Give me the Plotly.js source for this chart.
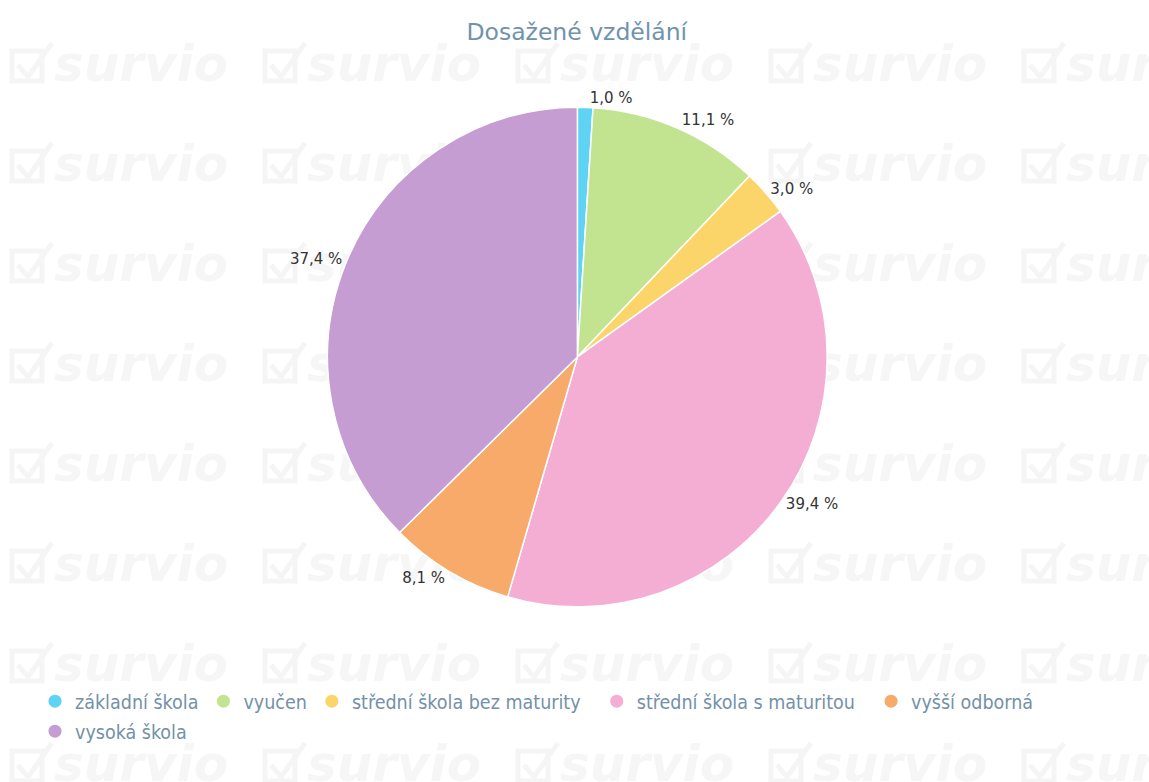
<!DOCTYPE html>
<html>
<head>
<meta charset="utf-8">
<script src="https://cdn.plot.ly/plotly-3.0.1.min.js"></script>
<style>html,body{margin:0;padding:0;background:#fff;}#chart{width:1149px;height:782px;}</style>
</head>
<body>
<div id="chart"></div>
<script>
const categories = ["základní škola", "vyučen", "střední škola bez maturity", "střední škola s maturitou", "vyšší odborná", "vysoká škola"];
const percentages = [1.0, 11.1, 3.0, 39.4, 8.1, 37.4];
const colors = ["#5fd3f3", "#c2e38f", "#fcd56a", "#f4aed4", "#f8aa6a", "#c59dd2"];
const chartTitle = "Dosažené vzdělání";
// legend layout: which legend row each entry goes to, and extra trailing spacing (non-breaking spaces)
const legendRow = ["legend", "legend", "legend", "legend", "legend", "legend2"];
const legendPad = [0, 0, 2, 2, 0, 0];

const pie = {
  type: "pie",
  labels: categories,
  values: percentages,
  sort: false,
  direction: "clockwise",
  rotation: 0,
  marker: {colors: colors, line: {color: "#ffffff", width: 1.5}},
  textposition: "outside",
  texttemplate: "%{value:.1f} %",
  textfont: {family: "DejaVu Sans", size: 15, color: "#333333"},
  hoverinfo: "label+percent",
  showlegend: false,
  domain: {x: [0.005, 1], y: [0.224, 0.863]}
};

const legendTraces = categories.map((c, i) => ({
  type: "scatter",
  mode: "markers",
  x: [null], y: [null],
  name: c + "\u00a0".repeat(legendPad[i]),
  legend: legendRow[i],
  marker: {color: colors[i], size: 13, symbol: "circle"},
  showlegend: true,
  hoverinfo: "skip"
}));

// faint background watermark as an SVG image (decoration only)
let wm = '<svg xmlns="http://www.w3.org/2000/svg" width="1149" height="782">';
for (let r = 0; r < 8; r++) {
  for (let c = 0; c < 5; c++) {
    const x = 12 + c * 253, y = 65 + r * 100;
    wm += '<g fill="none" stroke="#f5f5f5" stroke-width="5"><rect x="' + x + '" y="' + (y - 14) + '" width="30" height="30"/><path d="M' + (x + 6) + ' ' + y + ' l10 12 l24 -34"/></g>';
    wm += '<text x="' + (x + 42) + '" y="' + (y + 16) + '" font-family="DejaVu Sans" font-weight="bold" font-style="italic" font-size="50" fill="#f6f6f6">survio</text>';
  }
}
wm += '</svg>';
const wmSrc = "data:image/svg+xml;charset=utf-8," + encodeURIComponent(wm);

const W = 1149, H = 782;
const legendFont = {family: "DejaVu Sans Condensed", size: 19.5, color: "#7391a8"};

const layout = {
  width: W, height: H,
  margin: {l: 0, r: 0, t: 0, b: 0},
  paper_bgcolor: "#ffffff", plot_bgcolor: "rgba(0,0,0,0)",
  separators: ", ",
  title: {text: chartTitle, x: 0.502, xanchor: "center", y: 1 - 32 / H, yanchor: "middle",
    font: {family: "DejaVu Sans", size: 23.5, color: "#6f93ad"}},
  xaxis: {visible: false}, yaxis: {visible: false},
  showlegend: true,
  legend: {orientation: "h", x: 35 / W, xanchor: "left", y: 1 - 682 / H, yanchor: "top",
    font: legendFont, itemwidth: 30, bgcolor: "rgba(0,0,0,0)"},
  legend2: {orientation: "h", x: 35 / W, xanchor: "left", y: 1 - 712 / H, yanchor: "top",
    font: legendFont, itemwidth: 30, bgcolor: "rgba(0,0,0,0)"},
  images: [{source: wmSrc, xref: "paper", yref: "paper", x: 0, y: 1, sizex: 1, sizey: 1,
    xanchor: "left", yanchor: "top", sizing: "stretch", layer: "below"}]
};

Plotly.newPlot("chart", [pie, ...legendTraces], layout, {displayModeBar: false, staticPlot: true});
</script>
</body>
</html>
